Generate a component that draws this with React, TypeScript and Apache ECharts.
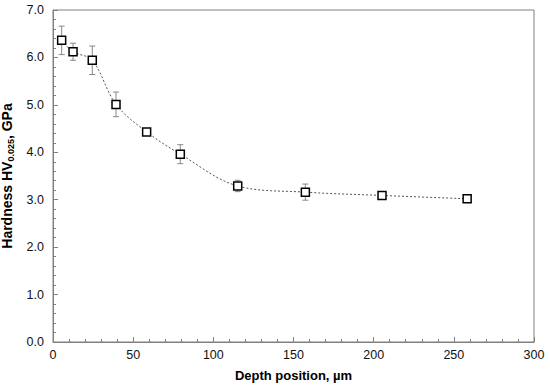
import React, { useEffect, useRef } from "react";
import * as echarts from "echarts";

const depth = [5.4, 12.5, 24.5, 39.3, 58.4, 79.4, 115.2, 157.4, 205.2, 258.3];
const hardness = [6.36, 6.12, 5.94, 5.01, 4.43, 3.96, 3.29, 3.16, 3.09, 3.02];
const errors = [0.3, 0.18, 0.3, 0.26, 0.05, 0.2, 0.12, 0.17, 0.06, 0.05];

export default function App() {
  const ref = useRef<HTMLDivElement>(null);
  useEffect(() => {
    document.body.style.margin = "0";
    if (!ref.current) return;
    const chart = echarts.init(ref.current, undefined, { renderer: "svg" });
    const font = "'Liberation Sans', Arial, sans-serif";
    const axisColor = "#808080";
    const lineData = depth.map((d, i) => [d, hardness[i]]);
    const errData = depth.map((d, i) => [d, hardness[i] - errors[i], hardness[i] + errors[i]]);
    chart.setOption({
      animation: false,
      backgroundColor: "#fff",
      grid: {
        left: 53,
        right: 16,
        top: 10,
        bottom: 46,
        containLabel: false,
        outerBoundsMode: "none",
        show: true,
        borderColor: axisColor,
        borderWidth: 1,
      },
      xAxis: {
        type: "value",
        min: 0,
        max: 300,
        interval: 50,
        name: "Depth position, µm",
        nameLocation: "middle",
        nameGap: 27,
        nameTextStyle: { fontFamily: font, fontSize: 13, fontWeight: "bold", color: "#000" },
        axisLine: { show: true, lineStyle: { color: axisColor, width: 1 } },
        axisTick: { show: true, inside: true, length: 5, lineStyle: { color: axisColor } },
        minorTick: { show: true, splitNumber: 5, length: 3, lineStyle: { color: axisColor } },
        axisLabel: { fontFamily: font, fontSize: 12.5, color: "#111", margin: 6 },
        splitLine: { show: false },
      },
      yAxis: {
        type: "value",
        min: 0,
        max: 7,
        interval: 1,
        name: "{a|Hardness HV}{s|0.025}{a|, GPa}",
        nameLocation: "middle",
        nameGap: 34,
        nameTextStyle: {
          fontFamily: font,
          fontSize: 14,
          fontWeight: "bold",
          color: "#000",
          rich: {
            a: { fontFamily: font, fontSize: 14, fontWeight: "bold", color: "#000", lineHeight: 18 },
            s: { fontFamily: font, fontSize: 9, fontWeight: "bold", color: "#000", verticalAlign: "bottom", lineHeight: 12, padding: [7, 0, 0, 0] },
          },
        },
        axisLine: { show: true, lineStyle: { color: axisColor, width: 1 } },
        axisTick: { show: true, inside: true, length: 5, lineStyle: { color: axisColor } },
        minorTick: { show: true, splitNumber: 5, length: 3, lineStyle: { color: axisColor } },
        axisLabel: {
          fontFamily: font,
          fontSize: 12.5,
          color: "#111",
          margin: 9,
          formatter: (v: number) => v.toFixed(1),
        },
        splitLine: { show: false },
      },
      series: [
        {
          type: "custom",
          data: errData,
          z: 2,
          renderItem: (params: any, api: any) => {
            const x = api.value(0);
            const lo = api.coord([x, api.value(1)]);
            const hi = api.coord([x, api.value(2)]);
            const w = 3;
            const style = { stroke: "#888", lineWidth: 1 };
            return {
              type: "group",
              children: [
                { type: "line", shape: { x1: lo[0], y1: lo[1], x2: hi[0], y2: hi[1] }, style },
                { type: "line", shape: { x1: lo[0] - w, y1: lo[1], x2: lo[0] + w, y2: lo[1] }, style },
                { type: "line", shape: { x1: hi[0] - w, y1: hi[1], x2: hi[0] + w, y2: hi[1] }, style },
              ],
            };
          },
        },
        {
          type: "line",
          data: lineData,
          z: 3,
          smooth: 0.35,
          symbol: "rect",
          symbolSize: 8,
          lineStyle: { color: "#555", width: 1, type: [2, 2] },
          itemStyle: { color: "#fff", borderColor: "#000", borderWidth: 1.5 },
        },
      ],
    });
    return () => chart.dispose();
  }, []);
  return <div ref={ref} style={{ width: 550, height: 388 }} />;
}
